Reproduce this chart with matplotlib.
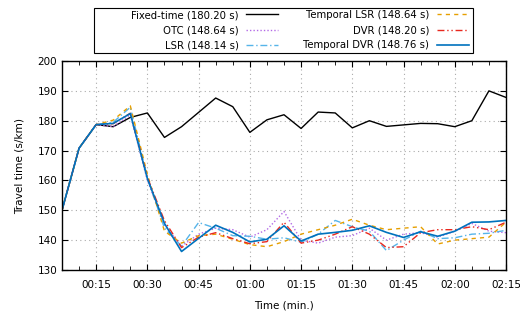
import numpy as np
import matplotlib.pyplot as plt
from matplotlib.patches import Rectangle
from matplotlib.ticker import FuncFormatter, MultipleLocator

# minutes since start, one sample every 5 min
minutes = np.arange(5, 140, 5)

fixed_time = [150.0, 170.8, 178.7, 178.0, 181.1, 182.6, 174.4, 178.0, 182.8, 187.6,
              184.7, 176.1, 180.3, 182.0, 177.4, 182.9, 182.6, 177.6, 180.0, 178.1,
              178.6, 179.1, 179.0, 178.0, 180.0, 190.0, 187.8]
otc = [150.0, 170.8, 178.7, 178.0, 182.0, 160.0, 145.0, 138.0, 142.0, 144.0,
       143.5, 141.0, 143.5, 149.6, 140.0, 139.0, 141.0, 141.5, 144.0, 140.0,
       142.0, 142.5, 141.0, 143.0, 145.6, 143.0, 142.5]
lsr = [150.0, 170.8, 178.7, 179.5, 184.5, 161.0, 144.0, 138.0, 145.9, 144.0,
       141.5, 141.3, 140.3, 140.8, 139.3, 142.0, 146.6, 144.5, 143.0, 136.5,
       140.0, 143.0, 140.5, 140.8, 142.0, 142.3, 143.3]
temporal_lsr = [150.0, 170.8, 178.7, 180.2, 185.0, 162.0, 143.0, 139.0, 141.5, 142.0,
                140.3, 138.5, 137.8, 139.5, 142.0, 143.5, 145.0, 147.0, 145.0, 143.5,
                144.0, 144.5, 138.7, 140.0, 140.5, 141.0, 146.0]
dvr = [150.0, 170.8, 178.7, 179.0, 182.5, 161.0, 146.5, 137.5, 141.0, 142.5,
       140.5, 138.8, 139.5, 146.0, 139.0, 140.0, 142.0, 144.5, 142.0, 137.5,
       137.8, 142.5, 143.5, 143.5, 144.5, 143.5, 146.0]
temporal_dvr = [150.0, 170.8, 178.7, 179.1, 182.4, 160.6, 145.6, 136.2, 140.6, 145.0,
                142.6, 139.4, 140.3, 144.8, 139.7, 142.0, 142.6, 143.3, 144.8, 142.6,
                140.9, 142.8, 141.3, 143.0, 146.0, 146.1, 146.6]

labels = ["Fixed-time (180.20 s)", "OTC (148.64 s)", "LSR (148.14 s)",
          "Temporal LSR (148.64 s)", "DVR (148.20 s)", "Temporal DVR (148.76 s)"]

W, H = 520, 311
fig = plt.figure(figsize=(W / 100, H / 100), dpi=100)
ax = fig.add_axes([62 / W, 1 - 270 / H, 444 / W, 209 / H])

ax.plot(minutes, fixed_time, color="black", lw=1.0, label=labels[0])
ax.plot(minutes, otc, color="#b36ae6", lw=1.0, ls=(0, (1, 1.5)), label=labels[1])
ax.plot(minutes, lsr, color="#56b4e9", lw=1.0, ls=(0, (5, 2, 1, 2)), label=labels[2])
ax.plot(minutes, temporal_lsr, color="#e69f00", lw=1.0, ls=(0, (3, 3)), label=labels[3])
ax.plot(minutes, dvr, color="#e8281e", lw=1.0, ls=(0, (5, 2, 1, 2, 1, 2)), label=labels[4])
ax.plot(minutes, temporal_dvr, color="#0072bd", lw=1.2, label=labels[5])

ax.set_xlim(5, 135)
ax.set_ylim(130, 200)
ax.xaxis.set_major_locator(MultipleLocator(15))
ax.xaxis.set_minor_locator(MultipleLocator(5))
ax.yaxis.set_major_locator(MultipleLocator(10))
ax.xaxis.set_major_formatter(FuncFormatter(lambda v, p: "%02d:%02d" % (v // 60, v % 60)))

ax.grid(True, which="major", color="#aaaaaa", ls=(0, (1, 3)), lw=0.8)
ax.tick_params(which="both", direction="in", top=True, right=True, labelsize=7.5,
               colors="black")
ax.tick_params(which="major", length=4)
ax.tick_params(which="minor", length=3)
ax.tick_params(axis="x", pad=7)
for s in ax.spines.values():
    s.set_linewidth(1.0)

ax.set_xlabel("Time (min.)", fontsize=7.5, labelpad=8)
ax.set_ylabel("Travel time (s/km)", fontsize=7.6, labelpad=9)

# gnuplot style key: right aligned text, sample on the right, frame drawn apart
fig.patches.append(Rectangle((94 / W, 1 - 53 / H), 379 / W, 45 / H,
                             transform=fig.transFigure, fill=False,
                             edgecolor="black", lw=0.8))
h, l = ax.get_legend_handles_labels()
leg = fig.legend(h, l, ncol=2, markerfirst=False, loc="upper right",
                 bbox_to_anchor=(469 / W, 1 - 10 / H), fontsize=7.3,
                 frameon=False, handlelength=3.2, handletextpad=0.7,
                 columnspacing=2.5, labelspacing=0.5, borderpad=0,
                 borderaxespad=0)

fig.savefig("out.png", dpi=100)
